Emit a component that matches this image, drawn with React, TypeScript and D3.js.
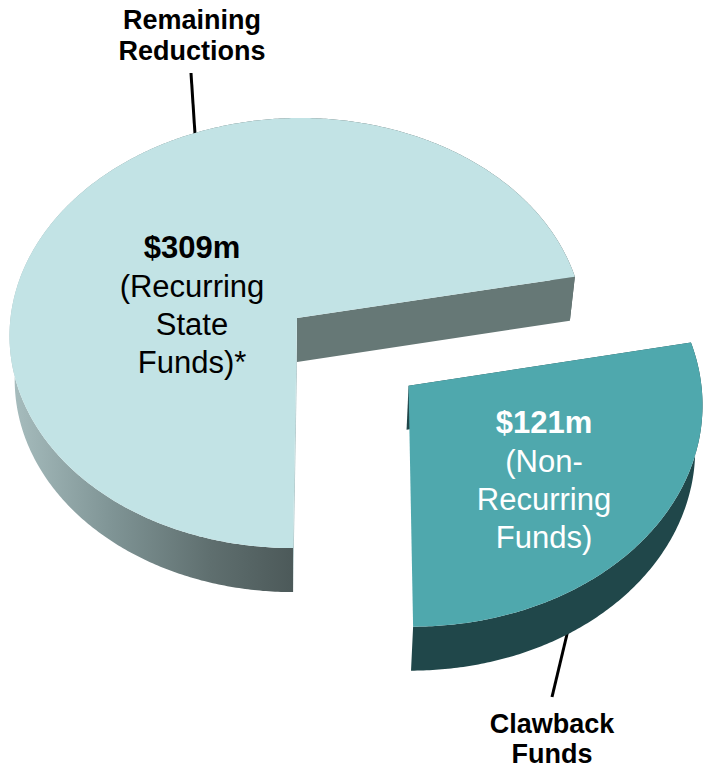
import React from "react";
import * as d3 from "d3";

const categories = ["Remaining Reductions", "Clawback Funds"];
const seriesValues = [309, 121];
const amountLabels = ["$309m", "$121m"];
const detailLabels = [
  ["(Recurring", "State", "Funds)*"],
  ["(Non-", "Recurring", "Funds)"],
];

const W = 704, H = 767;
const FONT = "'Liberation Sans', Arial, sans-serif";
const cx = 297, cy = 318, Sx = 286.5, Sy = 214, shear = -3.7, k = 0.07;
const depth = 44, lowerScale = 0.982;

type P = [number, number];
const project = (X: number, Y: number, lower = false): P => {
  const w = 1 - k * Y;
  const x = (Sx * X + shear * Y) / w;
  const y = (Sy * Y) / w;
  return lower ? [cx + x * lowerScale, cy + y + depth] : [cx + x, cy + y];
};

const pie = d3.pie<number>().sort(null).startAngle(Math.PI).endAngle(3 * Math.PI);
const arcs = pie(seriesValues);
const offsets: P[] = [[0, 0], [0.385, 0.31]];
const line = d3.line<P>();

const rim = (a0: number, a1: number, off: P, lower: boolean): P[] => {
  const n = Math.ceil(Math.abs(a1 - a0) / 0.01);
  return d3.range(n + 1).map((i) => {
    const a = a0 + ((a1 - a0) * i) / n;
    return project(Math.sin(a) + off[0], -Math.cos(a) + off[1], lower);
  });
};

const slices = arcs.map((d, i) => {
  const off = offsets[i];
  const top = rim(d.startAngle, d.endAngle, off, false);
  const bottom = rim(d.startAngle, d.endAngle, off, true);
  const cTop = project(off[0], off[1], false);
  const cBot = project(off[0], off[1], true);
  return {
    top: line([cTop, ...top])! + "Z",
    wall: line([...top, ...bottom.slice().reverse()])! + "Z",
    cutEnd: line([cTop, top[top.length - 1], bottom[bottom.length - 1], cBot])! + "Z",
    cutStart: line([cTop, top[0], bottom[0], cBot])! + "Z",
  };
});

const Text = ({ x, y, size, bold, fill, children }: any) => (
  <text x={x} y={y} fontSize={size} fontWeight={bold ? 700 : 400} fill={fill} textAnchor="middle" fontFamily={FONT}>
    {children}
  </text>
);

export default function App() {
  const [big, small] = slices;
  return (
    <svg width={W} height={H} viewBox={`0 0 ${W} ${H}`} style={{ position: "absolute", left: 0, top: 0, display: "block" }}>
      <defs>
        <linearGradient id="wallBig" gradientUnits="userSpaceOnUse" x1="14" y1="0" x2="294" y2="0">
          <stop offset="0" stopColor="#a6bcbd" />
          <stop offset="0.35" stopColor="#7f9495" />
          <stop offset="0.7" stopColor="#5f6f6f" />
          <stop offset="1" stopColor="#4c5959" />
        </linearGradient>
      </defs>
      <rect width={W} height={H} fill="#fff" />
      <line x1={191} y1={73} x2={195} y2={134} stroke="#000" strokeWidth={3} />
      <line x1={568} y1={630} x2={552} y2={697} stroke="#000" strokeWidth={3} />

      <path d={big.cutStart} fill="#a9c4c6" />
      <path d={big.wall} fill="url(#wallBig)" />
      <path d={big.cutEnd} fill="#667876" />
      <path d={big.top} fill="#c2e3e5" />

      <path d={small.cutStart} fill="#20474a" />
      <path d={small.wall} fill="#20474a" />
      <path d={small.top} fill="#4fa8ad" />

      {categories[0].split(" ").map((t, i) => (
        <Text key={t} x={192} y={29 + i * 31} size={27} bold fill="#000">{t}</Text>
      ))}
      {categories[1].split(" ").map((t, i) => (
        <Text key={t} x={552} y={733 + i * 29.5} size={27} bold fill="#000">{t}</Text>
      ))}

      <Text x={192} y={258} size={31} bold fill="#000">{amountLabels[0]}</Text>
      {detailLabels[0].map((t, i) => (
        <Text key={t} x={192} y={296.5 + i * 38} size={31} fill="#000">{t}</Text>
      ))}
      <Text x={544} y={433} size={31} bold fill="#fff">{amountLabels[1]}</Text>
      {detailLabels[1].map((t, i) => (
        <Text key={t} x={544} y={472 + i * 38} size={31} fill="#fff">{t}</Text>
      ))}
    </svg>
  );
}
